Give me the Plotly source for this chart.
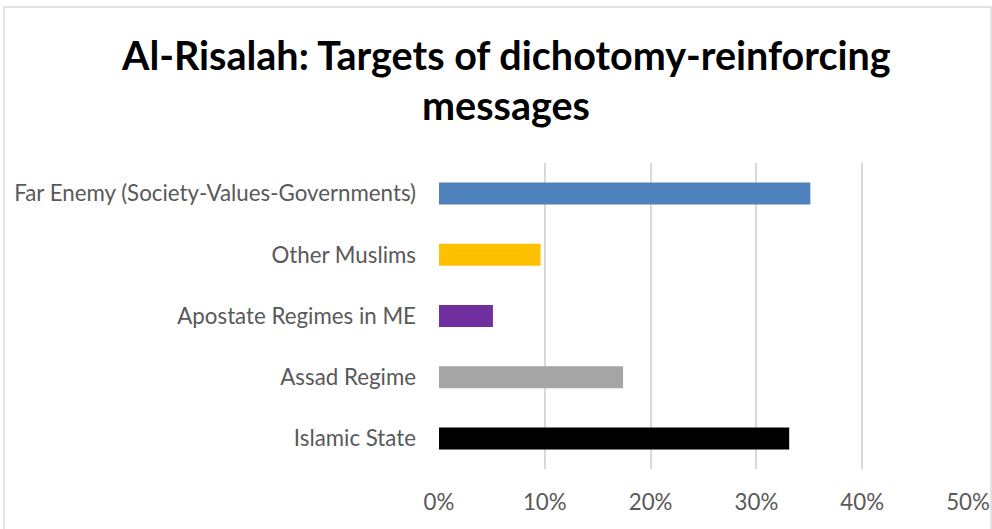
import plotly.graph_objects as go

categories = ["Far Enemy (Society-Values-Governments)", "Other Muslims",
              "Apostate Regimes in ME", "Assad Regime", "Islamic State"]
values = [0.351, 0.096, 0.051, 0.174, 0.331]
colors = ["#4F81BD", "#FFC000", "#7030A0", "#A5A5A5", "#000000"]
tick_vals = [0, 0.1, 0.2, 0.3, 0.4, 0.5]
tick_text = ["0%", "10%", "20%", "30%", "40%", "50%"]
title_lines = ["Al-Risalah: Targets of dichotomy-reinforcing", "messages"]

W, H = 992, 529
L, R, T, B = 439, 24, 163, 60
pw, ph = W - L - R, H - T - B

def px_x(p):
    return (p - L) / pw

def px_y(p):
    return 1 - (p - T) / ph

fig = go.Figure(go.Bar(
    y=categories, x=values, orientation="h",
    marker=dict(color=colors, line=dict(width=0)),
    width=0.36,
))

annotations = [
    dict(text="<b>%s</b>" % line, xref="paper", yref="paper",
         x=px_x(506), y=px_y(yc), xanchor="center", yanchor="middle",
         showarrow=False, font=dict(family="Lato", size=39.5, color="#000000"))
    for line, yc in zip(title_lines, [55, 104])
]

fig.update_layout(
    width=W, height=H,
    margin=dict(l=L, r=R, t=T, b=B, autoexpand=False),
    paper_bgcolor="white", plot_bgcolor="white",
    showlegend=False,
    font=dict(family="Lato", color="#595959", size=22.3),
    annotations=annotations,
    xaxis=dict(range=[0, 0.5], tickvals=tick_vals, ticktext=tick_text,
               showgrid=True, gridcolor="#D9D9D9", gridwidth=2,
               zeroline=False, showline=False, ticks="", ticklabelstandoff=18),
    yaxis=dict(autorange="reversed", showgrid=False, zeroline=False,
               showline=False, ticks="", ticklabelstandoff=22),
    bargap=0.64,
    shapes=[dict(type="rect", xref="paper", yref="paper",
                 x0=px_x(4), x1=px_x(991), y0=px_y(7), y1=px_y(560),
                 line=dict(color="#D9D9D9", width=1.5), fillcolor="rgba(0,0,0,0)",
                 layer="below")],
)

fig.write_html("out.html")
